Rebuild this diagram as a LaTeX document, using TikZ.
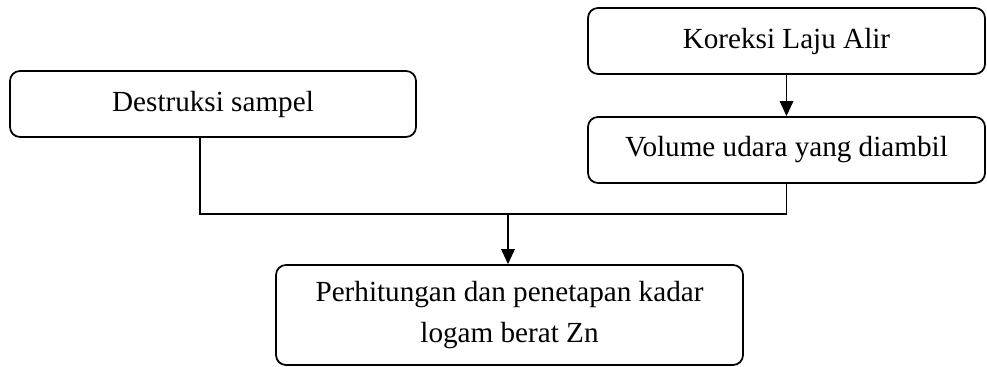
\documentclass[tikz,border=0pt]{standalone}
\usepackage{fontspec}
\setmainfont{Liberation Serif}
\usetikzlibrary{arrows.meta}
\tikzset{
  box/.style={draw,line width=1pt,rounded corners=0.2cm,inner sep=0pt,
    font=\fontsize{16.6}{23}\selectfont,align=center},
  flow/.style={line width=1pt},
  arr/.style={flow,-{Triangle[width=0.27cm,length=0.3cm]}}
}
\begin{document}
\begin{tikzpicture}[x=0.02cm,y=-0.02cm]
\useasboundingbox (0,0) rectangle (987,367);
\node[box,minimum width=0.02cm*397,minimum height=0.02cm*66] (kor) at (786.5,41) {Koreksi Laju Alir};
\node[box,minimum width=0.02cm*397,minimum height=0.02cm*66] (vol) at (786.5,150) {Volume udara yang diambil};
\node[box,minimum width=0.02cm*406,minimum height=0.02cm*66] (des) at (213,104) {Destruksi sampel};
\node[box,minimum width=0.02cm*467,minimum height=0.02cm*100] (hit) at (509.5,315) {Perhitungan dan penetapan kadar\\logam berat Zn};
\coordinate (jl) at (200,214);
\coordinate (jr) at (786.5,214);
\coordinate (jm) at (508,214);
\draw[arr] (kor) -- (vol);
\draw[flow] (des.south -| jl) -- (jl) -- (jr) -- (vol.south);
\draw[arr] (jm) -- (jm |- hit.north);
\end{tikzpicture}
\end{document}
